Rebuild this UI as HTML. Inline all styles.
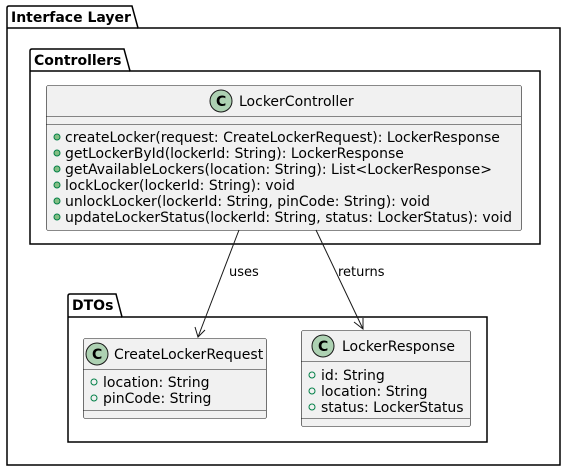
<!DOCTYPE html>
<html><head><style>body{margin:0;background:#fff}svg{display:block}text{font-family:"DejaVu Sans","Liberation Sans",sans-serif;font-size:13px;fill:#000}text.a{font-size:14px}</style></head><body>
<svg width="568" height="472" viewBox="0 0 568 472">
<g fill="none" stroke="#000" stroke-width="1.5">
<path d="M7,28 V8 Q7,6 9,6 H132 L138,28 H560 V465 H7 Z"/>
<line x1="7" y1="28" x2="138" y2="28"/>
<path d="M30,71 V51 Q30,49 32,49 H124 L130,71 H540 V244 H30 Z"/>
<line x1="30" y1="71" x2="130" y2="71"/>
<path d="M68,317 V296 Q68,294 70,294 H116 L122,317 H487 V442 H68 Z"/>
<line x1="68" y1="317" x2="122" y2="317"/>
</g>
<text x="11" y="22" style="font-weight:bold;font-size:14px">Interface Layer</text>
<text x="34" y="65" style="font-weight:bold;font-size:14px">Controllers</text>
<text x="72" y="310" style="font-weight:bold;font-size:14px">DTOs</text>
<g stroke="#181818" stroke-width="0.6" fill="#f1f1f1">
<rect x="46.5" y="85.5" width="475" height="145" rx="2"/>
<rect x="83.5" y="338.5" width="183" height="80" rx="2"/>
<rect x="301.5" y="330.5" width="169" height="96" rx="2"/>
<line x1="46" y1="116.5" x2="521" y2="116.5"/><line x1="46" y1="124.5" x2="521" y2="124.5"/>
<line x1="83" y1="369.5" x2="266" y2="369.5"/><line x1="83" y1="410.5" x2="266" y2="410.5"/>
<line x1="301" y1="361.5" x2="470" y2="361.5"/><line x1="301" y1="418.5" x2="470" y2="418.5"/>
</g>
<g fill="#add1b2" stroke="#181818" stroke-width="1">
<circle cx="221" cy="101" r="11"/><circle cx="97" cy="354" r="11"/><circle cx="323" cy="346" r="11"/>
</g>
<text x="216" y="106" style="font-weight:bold;font-size:14px">C</text><text x="92" y="359" style="font-weight:bold;font-size:14px">C</text><text x="318" y="351" style="font-weight:bold;font-size:14px">C</text>
<text x="239" y="106" class="a">LockerController</text>
<text x="114" y="359" class="a">CreateLockerRequest</text>
<text x="342" y="351" class="a">LockerResponse</text>
<g fill="#84be84" stroke="#038048" stroke-width="1">
<circle cx="57" cy="137" r="3"/><circle cx="57" cy="153" r="3"/><circle cx="57" cy="169" r="3"/><circle cx="57" cy="185" r="3"/><circle cx="57" cy="201" r="3"/><circle cx="57" cy="217" r="3"/>
</g>
<g fill="none" stroke="#038048" stroke-width="1">
<circle cx="94" cy="382" r="3"/><circle cx="94" cy="398" r="3"/>
<circle cx="312" cy="375" r="3"/><circle cx="312" cy="391" r="3"/><circle cx="312" cy="407" r="3"/>
</g>
<text class="a" x="65" y="142">createLocker(request: CreateLockerRequest): LockerResponse</text>
<text class="a" x="65" y="158">getLockerById(lockerId: String): LockerResponse</text>
<text class="a" x="65" y="174">getAvailableLockers(location: String): List&lt;LockerResponse&gt;</text>
<text class="a" x="65" y="190">lockLocker(lockerId: String): void</text>
<text class="a" x="65" y="206">unlockLocker(lockerId: String, pinCode: String): void</text>
<text class="a" x="65" y="222">updateLockerStatus(lockerId: String, status: LockerStatus): void</text>
<text class="a" x="103" y="387">location: String</text>
<text class="a" x="103" y="403">pinCode: String</text>
<text class="a" x="321" y="380">id: String</text>
<text class="a" x="321" y="396">location: String</text>
<text class="a" x="321" y="412">status: LockerStatus</text>
<g stroke="#181818" stroke-width="1" fill="none">
<line x1="239" y1="230" x2="198" y2="337"/>
<path d="M195,327 L198,337 L205,330"/>
<line x1="316" y1="230" x2="363" y2="329"/>
<path d="M354,322 L363,329 L363,318"/>
</g>
<text x="229" y="276">uses</text>
<text x="338" y="276">returns</text>
</svg>
</body></html>
